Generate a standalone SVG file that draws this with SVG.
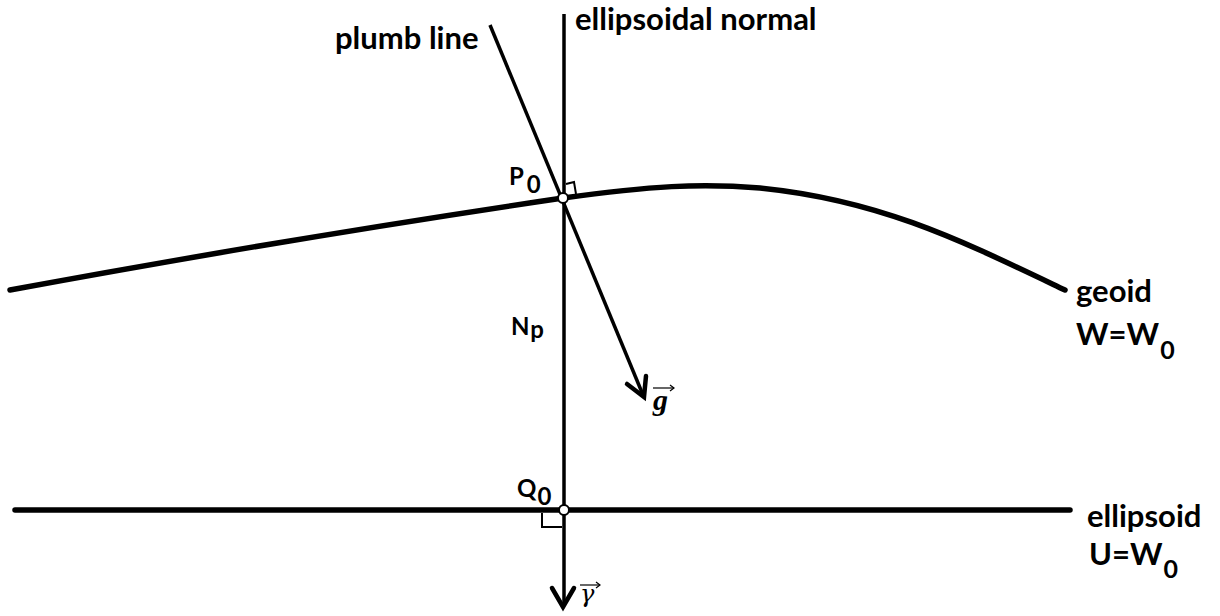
<svg xmlns="http://www.w3.org/2000/svg" width="1220" height="616" viewBox="0 0 1220 616">
<style>
.lbl{font-family:Lato,"Liberation Sans",sans-serif;font-weight:bold;font-size:31px;fill:#000}
.sm{font-size:24px}
.sub{font-size:25px}
.vec{font-family:"Liberation Serif","DejaVu Serif",serif;font-style:italic;font-weight:bold;font-size:30px;fill:#000}
.gam{font-family:"DejaVu Serif",serif;font-style:italic;font-size:24px;fill:#000}
.thick{stroke:#000;stroke-width:5.5;fill:none;stroke-linecap:round}
.thin{stroke:#000;stroke-width:3.5;fill:none}
.head{stroke:#000;stroke-width:4.5;fill:none;stroke-linecap:round;stroke-linejoin:miter}
.pt{fill:#fff;stroke:#000;stroke-width:2}
</style>
<rect width="1220" height="616" fill="#fff"/>
<g id="geoid">
<path class="thick" d="M10,290 C200,255 400,222 563,198 C650,186 700,183 760,188 C880,200 960,240 1065,290"/>
</g>
<g id="ellipsoid">
<line class="thick" x1="15" y1="510" x2="1070" y2="510"/>
</g>
<g id="connectors">
<line class="thin" x1="564" y1="14" x2="564" y2="605"/>
<polyline class="head" points="552,588 563,607 574,588"/>
<line class="thin" x1="490" y1="25" x2="643" y2="395"/>
<polyline class="head" points="627,384 644,397 646,376"/>
<polyline fill="none" stroke="#000" stroke-width="2" points="566,184 574,182 576,194"/>
<polyline fill="none" stroke="#000" stroke-width="2" points="542,513 542,527 562,527"/>
</g>
<g id="P0">
<circle class="pt" cx="563" cy="198" r="5"/>
<text class="lbl sm" x="509" y="185">P<tspan dx="3" dy="8">0</tspan></text>
</g>
<g id="Q0">
<circle class="pt" cx="564" cy="510" r="5"/>
<text class="lbl sm" x="517" y="497">Q<tspan dx="1" dy="8">0</tspan></text>
</g>
<g id="labels">
<text class="lbl" x="335" y="49">plumb line</text>
<text class="lbl" x="575" y="30">ellipsoidal normal</text>
<text class="lbl sm" x="511" y="335">N<tspan dx="1" dy="3">p</tspan></text>
<text class="lbl" x="1076" y="302">geoid</text>
<text class="lbl" x="1076" y="345">W=W<tspan class="sub" dx="1" dy="14">0</tspan></text>
<text class="lbl" x="1087" y="527">ellipsoid</text>
<text class="lbl" x="1089" y="565">U=W<tspan class="sub" dx="1" dy="13">0</tspan></text>
<text class="vec" x="653" y="410">g</text>
<line x1="653" y1="388" x2="674" y2="388" stroke="#000" stroke-width="1.2"/>
<polyline points="670,385 674,388 670,391" fill="none" stroke="#000" stroke-width="1.2"/>
<text class="gam" x="580" y="602">γ</text>
<line x1="580" y1="585" x2="600" y2="585" stroke="#000" stroke-width="1.2"/>
<polyline points="596,582 600,585 596,588" fill="none" stroke="#000" stroke-width="1.2"/>
</g>
</svg>
